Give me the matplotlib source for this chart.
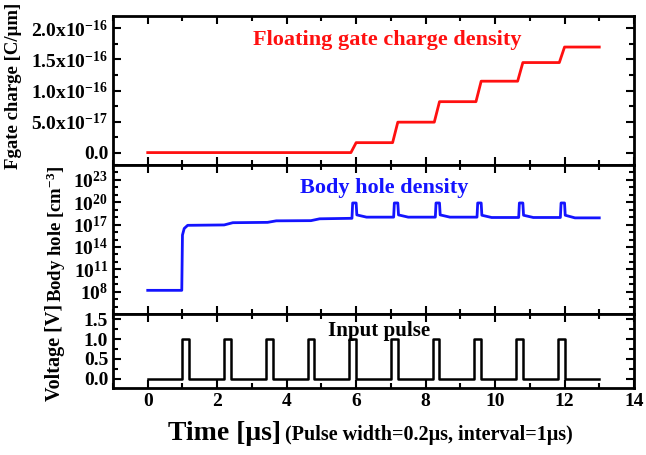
import matplotlib
matplotlib.use('Agg')
import matplotlib.pyplot as plt
from matplotlib.ticker import FixedLocator, MultipleLocator, NullFormatter

# input pulse (step-post)
pulse_t = [0, 1.0, 1.2, 2.2, 2.4, 3.4, 3.6, 4.6, 4.8, 5.8, 6.0, 7.0, 7.2,
           8.2, 8.4, 9.4, 9.6, 10.6, 10.8, 11.8, 12.0, 13.0]
pulse_v = [0, 1, 0, 1, 0, 1, 0, 1, 0, 1, 0, 1, 0,
           1, 0, 1, 0, 1, 0, 1, 0, 0]

# floating gate charge density [C/um]
fg_t = [0, 5.85, 6.0, 7.05, 7.2, 8.25, 8.4, 9.45, 9.6, 10.65, 10.8, 11.85, 12.0, 13.0]
fg_q = [0, 0, 1.6e-17, 1.6e-17, 4.9e-17, 4.9e-17, 8.2e-17, 8.2e-17,
        1.15e-16, 1.15e-16, 1.45e-16, 1.45e-16, 1.70e-16, 1.70e-16]

# body hole density [cm^-3]
bh_t = [0, 0.98, 1.0, 1.05, 1.15, 2.2, 2.45, 3.45, 3.7, 4.7, 4.95,
        5.88, 5.9, 6.0, 6.02, 6.3,
        7.08, 7.1, 7.2, 7.22, 7.5,
        8.28, 8.3, 8.4, 8.42, 8.7,
        9.48, 9.5, 9.6, 9.62, 9.9,
        10.68, 10.7, 10.8, 10.82, 11.1,
        11.88, 11.9, 12.0, 12.02, 12.3, 13.0]
bh_p = [1.5e8, 1.5e8, 4e15, 3e16, 8e16, 9e16, 1.8e17, 2e17, 3.2e17, 3.4e17, 6e17,
        7e17, 8e19, 8e19, 2e18, 1e18,
        1e18, 8e19, 8e19, 2e18, 1e18,
        1e18, 8e19, 8e19, 2e18, 1e18,
        1e18, 8e19, 8e19, 1.8e18, 9e17,
        9e17, 8e19, 8e19, 1.8e18, 9e17,
        9e17, 8e19, 8e19, 1.8e18, 8e17, 8e17]

fg_ticks = [0, 5e-17, 1e-16, 1.5e-16, 2e-16]
fg_labels = ['0.0', r'$5.0\mathrm{x}10^{-17}$', r'$1.0\mathrm{x}10^{-16}$',
             r'$1.5\mathrm{x}10^{-16}$', r'$2.0\mathrm{x}10^{-16}$']
bh_ticks = [1e8, 1e11, 1e14, 1e17, 1e20, 1e23]
bh_labels = [r'$10^{8}$', r'$10^{11}$', r'$10^{14}$', r'$10^{17}$', r'$10^{20}$', r'$10^{23}$']
v_ticks = [0, 0.5, 1.0, 1.5]
v_labels = ['0.0', '0.5', '1.0', '1.5']
x_ticks = [0, 2, 4, 6, 8, 10, 12, 14]

plt.rcParams['font.family'] = ['Liberation Serif', 'DejaVu Serif']
plt.rcParams['font.weight'] = 'bold'
plt.rcParams['mathtext.fontset'] = 'custom'
plt.rcParams['mathtext.rm'] = 'Liberation Serif:bold'
plt.rcParams['mathtext.bf'] = 'Liberation Serif:bold'
plt.rcParams['mathtext.it'] = 'Liberation Serif:bold:italic'
plt.rcParams['mathtext.default'] = 'rm'

W, H = 646, 455
fig = plt.figure(figsize=(W / 100, H / 100), dpi=100)

def px_axes(top, bottom, left=113, right=634):
    return [left / W, 1 - bottom / H, (right - left) / W, (bottom - top) / H]

ax1 = fig.add_axes(px_axes(16, 165))
ax2 = fig.add_axes(px_axes(165, 314), sharex=ax1)
ax3 = fig.add_axes(px_axes(314, 388), sharex=ax1)

for ax in (ax1, ax2, ax3):
    for sp in ax.spines.values():
        sp.set_linewidth(2)
    ax.tick_params(which='both', direction='in', top=True, right=True, width=1.5,
                   labelsize=14)
    ax.tick_params(which='major', length=6)
    ax.tick_params(which='minor', length=3.5)
    ax.xaxis.set_major_locator(FixedLocator(x_ticks))
    ax.xaxis.set_minor_locator(MultipleLocator(1))

ax1.plot(fg_t, fg_q, color='#ff1010', lw=2)
ax1.set_ylim(-0.2e-16, 2.2e-16)
ax1.set_yticks(fg_ticks)
ax1.set_yticklabels(fg_labels)
ax1.yaxis.set_minor_locator(MultipleLocator(2.5e-17))
ax1.text(0.526, 0.84, 'Floating gate charge density', color='#ff1010', fontsize=16,
         fontweight='bold', ha='center', va='center', transform=ax1.transAxes)

ax2.plot(bh_t, bh_p, color='#1414ff', lw=2)
ax2.set_yscale('log')
ax2.set_ylim(1e5, 1e25)
ax2.yaxis.set_major_locator(FixedLocator(bh_ticks))
ax2.set_yticklabels(bh_labels)
ax2.yaxis.set_minor_locator(FixedLocator([10.0 ** k for k in range(5, 26)]))
ax2.yaxis.set_minor_formatter(NullFormatter())
ax2.text(0.52, 0.845, 'Body hole density', color='#1414ff', fontsize=16,
         fontweight='bold', ha='center', va='center', transform=ax2.transAxes)

ax3.plot(pulse_t, pulse_v, color='black', lw=1.8, drawstyle='steps-post')
ax3.set_ylim(-0.23, 1.63)
ax3.set_yticks(v_ticks)
ax3.set_yticklabels(v_labels)
ax3.yaxis.set_minor_locator(MultipleLocator(0.25))
ax3.set_xlim(-1, 14)
ax3.text(0.51, 0.77, 'Input pulse', color='black', fontsize=15,
         fontweight='bold', ha='center', va='center', transform=ax3.transAxes)

ax1.tick_params(labelbottom=False)
ax2.tick_params(labelbottom=False)

fig.text(14 / W, 1 - 86 / H, 'Fgate charge [C/μm]', rotation=90, fontsize=13.5,
         fontweight='bold', ha='center', va='center')
fig.text(56 / W, 1 - 234 / H, r'Body hole [cm$^{-3}$]', rotation=90, fontsize=13.5,
         fontweight='bold', ha='center', va='center')
fig.text(55 / W, 1 - 352 / H, 'Voltage [V]', rotation=90, fontsize=14.5,
         fontweight='bold', ha='center', va='center')

fig.text(168 / W, 1 - 440 / H, 'Time [μs]', fontsize=20, fontweight='bold',
         ha='left', va='baseline')
fig.text(285 / W, 1 - 440 / H, '(Pulse width=0.2μs, interval=1μs)', fontsize=14.5,
         fontweight='bold', ha='left', va='baseline')

fig.savefig('out.png', dpi=100)
